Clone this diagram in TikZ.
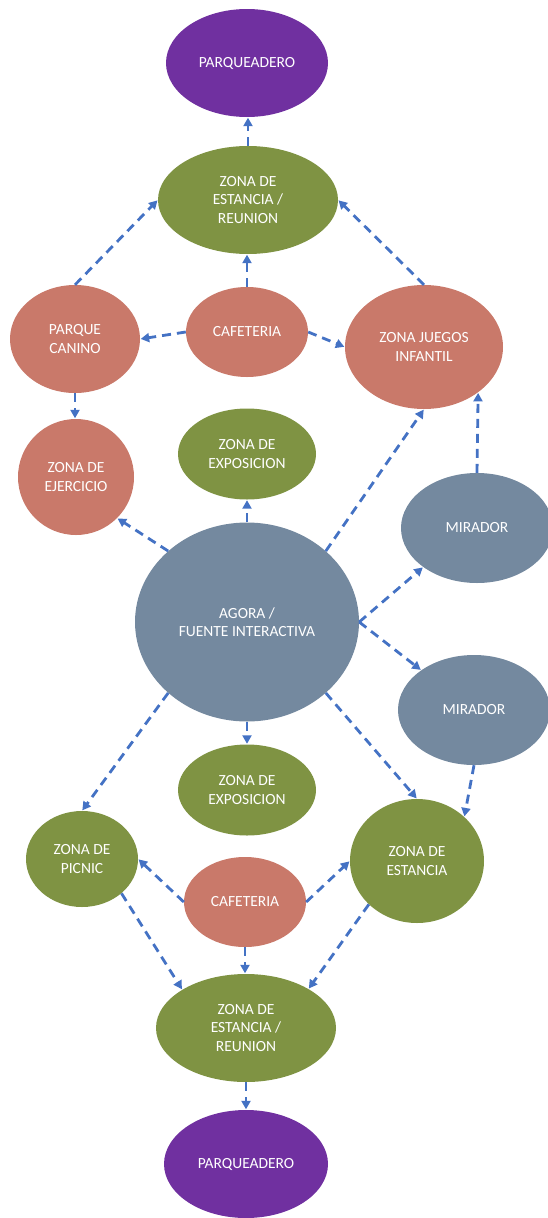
\documentclass[tikz,border=0pt]{standalone}
\usepackage{fontspec}
\setmainfont{Carlito}
\usetikzlibrary{shapes.geometric,arrows.meta}
\definecolor{cpurple}{HTML}{7030A0}
\definecolor{cgreen}{HTML}{7F9343}
\definecolor{csalmon}{HTML}{C9796A}
\definecolor{cslate}{HTML}{74899F}
\definecolor{carrow}{HTML}{4472C4}
\tikzset{
  zone/.style n args={2}{ellipse, inner sep=0pt, minimum width=#1, minimum height=#2,
    text=white, align=center, font=\fontsize{15.5}{18.3}\selectfont},
  purplezone/.style={fill=cpurple},
  greenzone/.style={fill=cgreen},
  salmonzone/.style={fill=csalmon},
  slatezone/.style={fill=cslate},
  link/.style={draw=carrow, line width=2.8pt, dash pattern=on 9pt off 6pt,
    -{Triangle[length=8.5pt,width=9pt]}, shorten >=0.5pt}
}
\begin{document}
\begin{tikzpicture}[x=1pt,y=-1pt]
\useasboundingbox (0,0) rectangle (548,1218);
% nodes
\node[zone={162pt}{108pt}, purplezone] (parqT) at (247,63) {PARQUEADERO};
\node[zone={180pt}{108pt}, greenzone] (estT) at (248,200) {ZONA DE\\ESTANCIA /\\REUNION};
\node[zone={130pt}{108pt}, salmonzone] (canino) at (75,339) {PARQUE\\CANINO};
\node[zone={122pt}{90pt}, salmonzone] (cafT) at (247,332) {CAFETERIA};
\node[zone={158pt}{124pt}, salmonzone] (juegos) at (424,347) {ZONA JUEGOS\\INFANTIL};
\node[zone={116pt}{116pt}, salmonzone] (ejer) at (76,477) {ZONA DE\\EJERCICIO};
\node[zone={138pt}{91pt}, greenzone] (expT) at (247,454) {ZONA DE\\EXPOSICION};
\node[zone={152pt}{110pt}, slatezone] (mir1) at (477,528) {MIRADOR};
\node[zone={224pt}{199pt}, slatezone] (agora) at (247,622) {AGORA /\\FUENTE INTERACTIVA};
\node[zone={152pt}{110pt}, slatezone] (mir2) at (474,710) {MIRADOR};
\node[zone={138pt}{91pt}, greenzone] (expB) at (247,790) {ZONA DE\\EXPOSICION};
\node[zone={112pt}{96pt}, greenzone] (picnic) at (82,859) {ZONA DE\\PICNIC};
\node[zone={134pt}{124pt}, greenzone] (estancia) at (417,861) {ZONA DE\\ESTANCIA};
\node[zone={122pt}{90pt}, salmonzone] (cafB) at (245,902) {CAFETERIA};
\node[zone={180pt}{108pt}, greenzone] (estB) at (246,1028) {ZONA DE\\ESTANCIA /\\REUNION};
\node[zone={164pt}{108pt}, purplezone] (parqB) at (246,1164) {PARQUEADERO};
% connectors
\draw[link] (estT.north) -- (estT.north |- parqT.south);
\draw[link] (canino.north) -- (estT.west);
\draw[link] (juegos.north) -- (estT.east);
\draw[link] (cafT.north) -- (cafT.north |- estT.south);
\draw[link] (cafT.west) -- (canino.east);
\draw[link] (cafT.east) -- (juegos.west);
\draw[link] (canino.south) -- (canino.south |- ejer.north);
\draw[link] (agora.138) -- (ejer.-45);
\draw[link] (agora.north) -- (agora.north |- expT.south);
\draw[link] (agora.42) -- (juegos.south);
\draw[link] (mir1.north) -- (juegos.-40);
\draw[link] (agora.east) -- (mir1.216);
\draw[link] (agora.east) -- (mir2.143);
\draw[link] (agora.south) -- (agora.south |- expB.north);
\draw[link] (agora.222) -- (picnic.north);
\draw[link] (agora.-42) -- (estancia.north);
\draw[link] (mir2.south) -- (estancia.43);
\draw[link] (cafB.west) -- (picnic.east);
\draw[link] (cafB.east) -- (estancia.west);
\draw[link] (cafB.south) -- (cafB.south |- estB.north);
\draw[link] (picnic.-41) -- (estB.149);
\draw[link] (estancia.222) -- (estB.32);
\draw[link] (estB.south) -- (estB.south |- parqB.north);
\end{tikzpicture}
\end{document}
